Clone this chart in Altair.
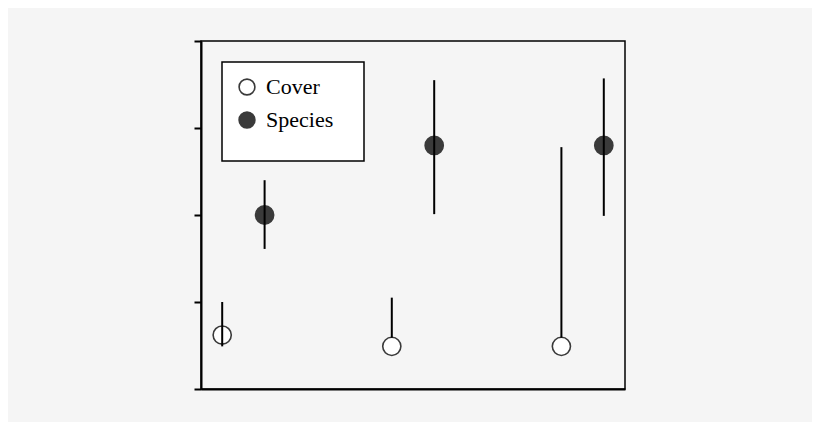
import altair as alt
import pandas as pd

groups_x_cover = [0.5, 4.5, 8.5]
groups_x_species = [1.5, 5.5, 9.5]
cover_mid = [0.62, 0.49, 0.49]
cover_lo = [0.49, 0.59, 0.59]
cover_hi = [1.00, 1.05, 2.78]
species_mid = [2.00, 2.80, 2.80]
species_lo = [1.61, 2.01, 1.99]
species_hi = [2.40, 3.55, 3.57]
series = ["Cover", "Species"]

rows = []
for i in range(3):
    rows.append({"x": groups_x_cover[i], "y": cover_mid[i], "lo": cover_lo[i], "hi": cover_hi[i], "s": "Cover"})
    rows.append({"x": groups_x_species[i], "y": species_mid[i], "lo": species_lo[i], "hi": species_hi[i], "s": "Species"})
df = pd.DataFrame(rows)

xs = alt.Scale(domain=[0, 10], nice=False, zero=False)
ys = alt.Scale(domain=[0, 4], nice=False, zero=False)

base = alt.Chart(df)

points = base.mark_point(filled=True, size=330, stroke="#3a3a3a", strokeWidth=1.6, opacity=1).encode(
    x=alt.X("x:Q", scale=xs, axis=alt.Axis(labels=False, ticks=False, title=None, grid=False,
                                             domainColor="black", domainWidth=2)),
    y=alt.Y("y:Q", scale=ys, axis=alt.Axis(labels=False, values=[0, 1, 2, 3, 4], tickSize=7, tickWidth=2,
                                             tickColor="black", title=None, grid=False,
                                             domainColor="black", domainWidth=2)),
    fill=alt.Fill("s:N", scale=alt.Scale(domain=series, range=["white", "#3a3a3a"]),
                  legend=alt.Legend(title=" ", titleOrient="bottom", titleFontSize=1, titlePadding=15,
                                    orient="none", legendX=21, legendY=21,
                                    fillColor="white", strokeColor="black", padding=14,
                                    symbolType="circle", symbolSize=250, symbolStrokeColor="#3a3a3a",
                                    symbolStrokeWidth=1.6, labelFont="Liberation Serif",
                                    labelFontSize=22, labelColor="black", labelOffset=8,
                                    labelExpr="datum.label + '\u2800'",
                                    rowPadding=9)),
)

rules = base.mark_rule(color="black", strokeWidth=2).encode(
    x=alt.X("x:Q", scale=xs),
    y=alt.Y("lo:Q", scale=ys),
    y2="hi:Q",
)

chart = alt.layer(points, rules).properties(
    width=424, height=348,
    padding={"left": 193, "top": 33, "right": 187, "bottom": 33},
    autosize=alt.AutoSizeParams(type="none"),
    background="#f5f5f5",
).configure_view(stroke="black", strokeWidth=1.5, fill="#f5f5f5").configure_legend(strokeWidth=1.5)

chart.save("out.html", embed_options={"renderer": "svg", "actions": False})
